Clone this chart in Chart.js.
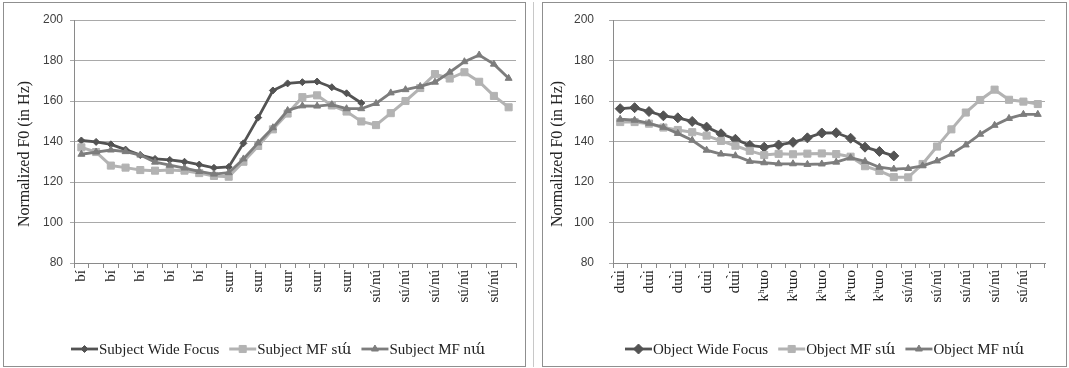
<!DOCTYPE html>
<html><head><meta charset="utf-8">
<script src="https://cdn.jsdelivr.net/npm/chart.js@4/dist/chart.umd.min.js"></script>
<style>
html,body{margin:0;padding:0;background:#fff;}
body{width:1069px;height:368px;position:relative;overflow:hidden;}
.panel{position:absolute;border:1px solid #8f8f8f;box-sizing:border-box;background:#fff;}
canvas{position:absolute;left:0;top:0;}
</style></head><body>
<div class="panel" style="left:3px;top:2px;width:523px;height:365px;"><canvas id="c1" width="521" height="363"></canvas></div>
<div style="position:absolute;left:533px;top:2px;width:1px;height:365px;background:#c8c8c8"></div>
<div class="panel" style="left:542px;top:2px;width:525px;height:365px;"><canvas id="c2" width="523" height="363"></canvas></div>
<script>
// ---- data ----
const subjectCategories = [
  'bí','bí','bí','bí','bí','bí','bí','bí','bí','bí',
  'sɯr','sɯr','sɯr','sɯr','sɯr','sɯr','sɯr','sɯr','sɯr','sɯr',
  'sú/nú','sú/nú','sú/nú','sú/nú','sú/nú','sú/nú','sú/nú','sú/nú','sú/nú','sú/nú'
];
const objectCategories = [
  'dɯ̀i','dɯ̀i','dɯ̀i','dɯ̀i','dɯ̀i','dɯ̀i','dɯ̀i','dɯ̀i','dɯ̀i','dɯ̀i',
  'kʰɯo','kʰɯo','kʰɯo','kʰɯo','kʰɯo','kʰɯo','kʰɯo','kʰɯo','kʰɯo','kʰɯo',
  'sú/nú','sú/nú','sú/nú','sú/nú','sú/nú','sú/nú','sú/nú','sú/nú','sú/nú','sú/nú'
];
const yTicks = [80, 100, 120, 140, 160, 180, 200];

const subjectWideFocus = [140.5, 139.8, 138.6, 136, 133.3, 131.4, 130.9, 130, 128.6, 127, 127.4,
  139.1, 151.8, 165.2, 168.7, 169.3, 169.6, 166.8, 163.8, 159,
  null, null, null, null, null, null, null, null, null, null];
const subjectMFsu = [137.1, 134.8, 128.1, 127.1, 125.9, 125.6, 125.9, 125.6, 124.4, 123, 122.6,
  130, 137.8, 146, 153.8, 161.9, 162.8, 157.8, 154.8, 149.9,
  148.1, 154, 160, 166.4, 173.3, 171.1, 174.2, 169.5, 162.5, 156.9];
const subjectMFnu = [133.7, 134.8, 135.8, 135, 133.3, 129.8, 128.3, 126.9, 125.2, 123.9, 124.6,
  131.4, 139.3, 146.8, 155.3, 157.6, 157.5, 158.2, 156.2, 156.2,
  158.8, 164, 165.6, 167.2, 169.3, 174.2, 179.4, 182.7, 178.2, 171.2];

const objectWideFocus = [156.2, 156.7, 154.8, 152.7, 151.7, 149.9, 147.1, 143.8, 141.1, 138.1,
  137.2, 138.3, 139.6, 141.8, 144.2, 144.3, 141.6, 137.2, 135.1, 132.9,
  null, null, null, null, null, null, null, null, null, null];
const objectMFsu = [149.6, 149.6, 148.8, 146.9, 145.7, 144.6, 142.9, 140.3, 137.9, 135.4,
  133.3, 133.9, 133.7, 134, 134.1, 133.8, 132.5, 127.8, 125.5, 122.4,
  122.3, 128.9, 137.5, 146, 154.3, 160.5, 165.6, 160.6, 159.7, 158.5];
const objectMFnu = [151, 150.5, 149, 147, 144, 140.6, 135.7, 133.8, 133, 130.2,
  129.5, 129, 129, 128.7, 128.9, 129.8, 132, 130.2, 127.3, 126.4,
  126.7, 128, 130.4, 133.8, 138.3, 143.6, 148, 151.4, 153.4, 153.4];

const subjectLegend = ['Subject Wide Focus', 'Subject MF sɯ́', 'Subject MF nɯ́'];
const objectLegend = ['Object Wide Focus', 'Object MF sɯ́', 'Object MF nɯ́'];
const yTitle = 'Normalized F0 (in Hz)';

// ---- styles ----
const DARK = '#535353', LIGHT = '#b3b3b3', MID = '#7d7d7d';
const SERIF = "'Liberation Serif','DejaVu Serif','Times New Roman',serif";
const IPA_SERIF = "'DejaVu Serif',serif";
const SANS = "'Liberation Sans',Arial,sans-serif";

function drawMarker(ctx, style, x, y, r, color) {
  ctx.save();
  ctx.fillStyle = color; ctx.strokeStyle = color; ctx.lineWidth = 1;
  ctx.beginPath();
  if (style === 'rectRot') {
    ctx.moveTo(x, y - r); ctx.lineTo(x + r, y); ctx.lineTo(x, y + r); ctx.lineTo(x - r, y);
  } else if (style === 'rect') {
    const s = r * Math.SQRT1_2; ctx.rect(x - s, y - s, 2 * s, 2 * s);
  } else {
    for (let k = 0; k < 3; k++) {
      const a = k * 2 * Math.PI / 3;
      const px = x + Math.sin(a) * r, py = y - Math.cos(a) * r;
      if (k === 0) ctx.moveTo(px, py); else ctx.lineTo(px, py);
    }
  }
  ctx.closePath(); ctx.fill(); ctx.stroke();
  ctx.restore();
}

// draw text, using a font that holds the IPA letter together with its accent
function drawRuns(ctx, text, x, y, size) {
  const parts = text.split(/(ɯ[\u0300\u0301]?)/).filter(p => p.length);
  parts.forEach(p => {
    ctx.font = size + 'px ' + (p.startsWith('ɯ') ? IPA_SERIF : SERIF);
    ctx.fillText(p, x, y);
    x += ctx.measureText(p).width;
  });
  return x;
}

const customPlugin = {
  id: 'custom',
  afterDraw(chart, args, o) {
    const ctx = chart.ctx;
    // y-axis title
    ctx.save();
    ctx.translate(o.titleX, o.titleY);
    ctx.rotate(-Math.PI / 2);
    ctx.font = '16px ' + SERIF;
    ctx.fillStyle = '#222';
    ctx.textAlign = 'center';
    ctx.textBaseline = 'middle';
    ctx.fillText(yTitle, 0, 0);
    ctx.restore();
    // legend
    ctx.save();
    ctx.textBaseline = 'middle';
    ctx.textAlign = 'left';
    let x = o.legendX; const y = o.legendY;
    chart.data.datasets.forEach(ds => {
      ctx.strokeStyle = ds.borderColor; ctx.lineWidth = ds.borderWidth;
      ctx.beginPath(); ctx.moveTo(x, y); ctx.lineTo(x + 27, y); ctx.stroke();
      drawMarker(ctx, ds.pointStyle, x + 13.5, y, ds.pointRadius, ds.borderColor);
      ctx.fillStyle = '#222';
      const end = drawRuns(ctx, ds.label, x + 28, y + 1, 15);
      x = end + 10;
    });
    ctx.restore();
  }
};

function makeChart(id, cats, labels, series, cfg) {
  const styles = [
    {c: DARK, w: 2.8, p: 'rectRot', r: cfg.diamondR, order: 3},
    {c: LIGHT, w: 3, p: 'rect', r: cfg.squareR, order: 2},
    {c: MID, w: 2.8, p: 'triangle', r: cfg.triR, order: 1}
  ];
  return new Chart(document.getElementById(id), {
    type: 'line',
    data: {
      labels: cats,
      datasets: series.map((d, i) => ({
        label: labels[i], data: d, order: styles[i].order,
        borderColor: styles[i].c, backgroundColor: styles[i].c, borderWidth: styles[i].w,
        pointStyle: styles[i].p, pointRadius: styles[i].r, pointBorderWidth: 1,
        pointBackgroundColor: styles[i].c, pointBorderColor: styles[i].c,
        tension: 0, spanGaps: false
      }))
    },
    options: {
      responsive: false, animation: false, events: [],
      layout: {padding: {left: 8, right: cfg.padRight, top: 17, bottom: 0}},
      plugins: {legend: {display: false}, tooltip: {enabled: false},
        custom: {titleX: cfg.titleX, titleY: 151, legendX: cfg.legendX, legendY: 346}},
      scales: {
        x: {
          offset: true,
          grid: {offset: true, drawOnChartArea: false, tickLength: 5, color: '#8a8a8a'},
          border: {color: '#8a8a8a'},
          ticks: {autoSkip: false, minRotation: 90, maxRotation: 90, padding: 2,
            color: '#222', font: {family: SERIF, size: 15},
            callback: (v, i) => (i % 2 === 0 ? cats[i] : '')},
          afterFit: s => { s.height = 103; s.paddingLeft = 0; s.paddingRight = 0; }
        },
        y: {
          min: yTicks[0], max: yTicks[yTicks.length - 1],
          afterBuildTicks: s => { s.ticks = yTicks.map(v => ({value: v})); },
          grid: {color: '#a9a9a9', tickLength: 4},
          border: {color: '#8a8a8a'},
          ticks: {padding: cfg.yPad, color: '#404040', font: {family: SANS, size: 12}},
          afterFit: s => { s.width = 62; s.paddingTop = 0; s.paddingBottom = 0; }
        }
      }
    },
    plugins: [customPlugin]
  });
}

makeChart('c1', subjectCategories, subjectLegend, [subjectWideFocus, subjectMFsu, subjectMFnu],
  {padRight: 9, titleX: 21, legendX: 67, yPad: 7, diamondR: 3.5, squareR: 5, triR: 4});
makeChart('c2', objectCategories, objectLegend, [objectWideFocus, objectMFsu, objectMFnu],
  {padRight: 21, titleX: 15, legendX: 82, yPad: 15, diamondR: 5, squareR: 5, triR: 4});
</script>
</body></html>
